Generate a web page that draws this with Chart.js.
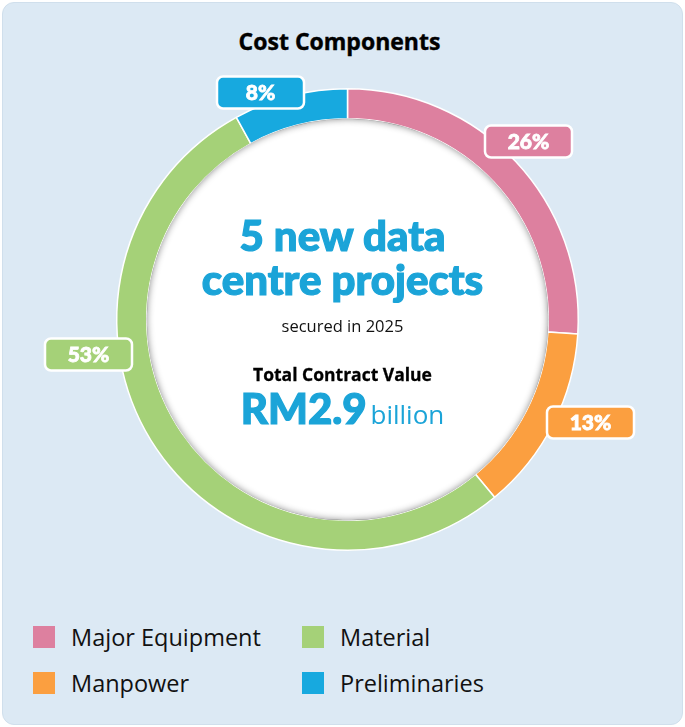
<!DOCTYPE html>
<html>
<head>
<meta charset="utf-8">
<script src="https://cdn.jsdelivr.net/npm/chart.js@4/dist/chart.umd.min.js"></script>
<style>
  html, body { margin: 0; padding: 0; background: #ffffff; }
  .panel {
    position: absolute; left: 2px; top: 2px; width: 679px; height: 721px;
    background: #dce9f4; border: 1px solid #d0dfec; border-radius: 12px; overflow: hidden;
  }
  .title {
    position: absolute; left: 0; top: 22px; width: 685px; text-align: center;
    font: 700 23px "Open Sans", sans-serif; color: #000; margin-left: -6px;
    -webkit-text-stroke: 0.4px #000;
  }
  .wrap { position: absolute; left: -3px; top: -3px; width: 685px; height: 600px; }
  .center {
    position: absolute; left: 0; width: 685px; text-align: center; margin-left: -3px;
    font-family: "Lato Black", Lato, sans-serif; color: #1ba4d8;
  }
  .big { font-weight: 900; font-size: 42px; line-height: 44px; -webkit-text-stroke: 1.2px #1ba4d8; }
  .sub { color: #111; font: 400 16.5px "Open Sans", sans-serif; }
  .tcv { color: #000; font: 700 17.5px "Open Sans", sans-serif; -webkit-text-stroke: 0.3px #000; }
  .bill { font: 400 26px "Open Sans", sans-serif; color: #1ba4d8; -webkit-text-stroke: 0; }
  .legend { position: absolute; left: 0; top: 0; font: 400 23.5px "Open Sans", sans-serif; color: #111; }
  .item { position: absolute; display: flex; align-items: center; white-space: nowrap; }
  .sw { width: 22px; height: 22px; margin-right: 16px; }
</style>
</head>
<body>
<div class="panel">
  <div class="title">Cost Components</div>
  <div class="wrap"><canvas id="chart"></canvas></div>
  <div class="center big" style="top:210px">5 new data<br>centre projects</div>
  <div class="center sub" style="top:311px">secured in 2025</div>
  <div class="center tcv" style="top:359px">Total Contract Value</div>
  <div class="center" style="top:383px"><span class="big">RM2.9</span> <span class="bill">billion</span></div>
  <div class="legend" id="legend"></div>
</div>
<script>
const categories = ['Major Equipment', 'Manpower', 'Material', 'Preliminaries'];
const shares = [26, 13, 53, 8];
const colours = ['#dd809f', '#fb9f40', '#a5d178', '#17a9df'];
const labelTexts = ['26%', '13%', '53%', '8%'];

// where each percentage tag sits, relative to the ring centre
const tagOffsets = [[181, -178], [243, 103], [-259, 35], [-87, -227]];

// legend slots in the same order as categories (two columns)
const legendSlots = [[30, 618], [30, 664], [299, 618], [299, 664]];
const legendEl = document.getElementById('legend');
categories.forEach((name, i) => {
  const div = document.createElement('div');
  div.className = 'item';
  div.style.left = legendSlots[i][0] + 'px';
  div.style.top = legendSlots[i][1] + 'px';
  div.innerHTML = '<span class="sw" style="background:' + colours[i] + '"></span>' + name;
  legendEl.appendChild(div);
});

const innerShadow = {
  id: 'innerShadow',
  beforeDatasetsDraw(chart) {
    const arc = chart.getDatasetMeta(0).data[0];
    if (!arc) return;
    const { x, y, innerRadius } = arc.getProps(['x', 'y', 'innerRadius'], true);
    const ctx = chart.ctx;
    ctx.save();
    ctx.beginPath();
    ctx.arc(x, y, innerRadius + 1, 0, Math.PI * 2);
    ctx.fillStyle = '#ffffff';
    ctx.fill();
    ctx.restore();
  },
  afterDatasetsDraw(chart) {
    const arc = chart.getDatasetMeta(0).data[0];
    if (!arc) return;
    const { x, y, innerRadius } = arc.getProps(['x', 'y', 'innerRadius'], true);
    const ctx = chart.ctx;
    ctx.save();
    ctx.beginPath();
    ctx.arc(x, y, innerRadius, 0, Math.PI * 2);
    ctx.clip();
    ctx.shadowColor = 'rgba(0,0,0,0.45)';
    ctx.shadowBlur = 7;
    ctx.beginPath();
    ctx.arc(x, y, innerRadius + 10, 0, Math.PI * 2);
    ctx.lineWidth = 20;
    ctx.strokeStyle = '#888';
    ctx.stroke();
    ctx.restore();
  }
};

const tags = {
  id: 'tags',
  afterDatasetsDraw(chart) {
    const meta = chart.getDatasetMeta(0);
    const ctx = chart.ctx;
    meta.data.forEach((arc, i) => {
      const w = 87, h = 32;
      const cx = arc.x + tagOffsets[i][0];
      const cy = arc.y + tagOffsets[i][1];
      ctx.save();
      ctx.beginPath();
      ctx.roundRect(cx - w / 2, cy - h / 2, w, h, 6);
      ctx.fillStyle = colours[i];
      ctx.fill();
      ctx.lineWidth = 2.5;
      ctx.strokeStyle = '#ffffff';
      ctx.stroke();
      ctx.fillStyle = '#ffffff';
      ctx.strokeStyle = '#ffffff';
      ctx.lineWidth = 0.8;
      ctx.font = '900 21px Lato, sans-serif';
      ctx.textAlign = 'center';
      ctx.textBaseline = 'middle';
      ctx.fillText(labelTexts[i], cx, cy + 1);
      ctx.strokeText(labelTexts[i], cx, cy + 1);
      ctx.restore();
    });
  }
};

new Chart(document.getElementById('chart'), {
  type: 'doughnut',
  data: {
    labels: categories,
    datasets: [{
      data: shares,
      backgroundColor: colours,
      borderColor: '#ffffff',
      borderWidth: 1.5,
      hoverOffset: 0
    }]
  },
  options: {
    responsive: true,
    maintainAspectRatio: false,
    animation: false,
    cutout: '87%',
    layout: { padding: { top: 88, bottom: 49, left: 116, right: 106 } },
    plugins: {
      legend: { display: false },
      tooltip: { enabled: false }
    }
  },
  plugins: [innerShadow, tags]
});
</script>
</body>
</html>
